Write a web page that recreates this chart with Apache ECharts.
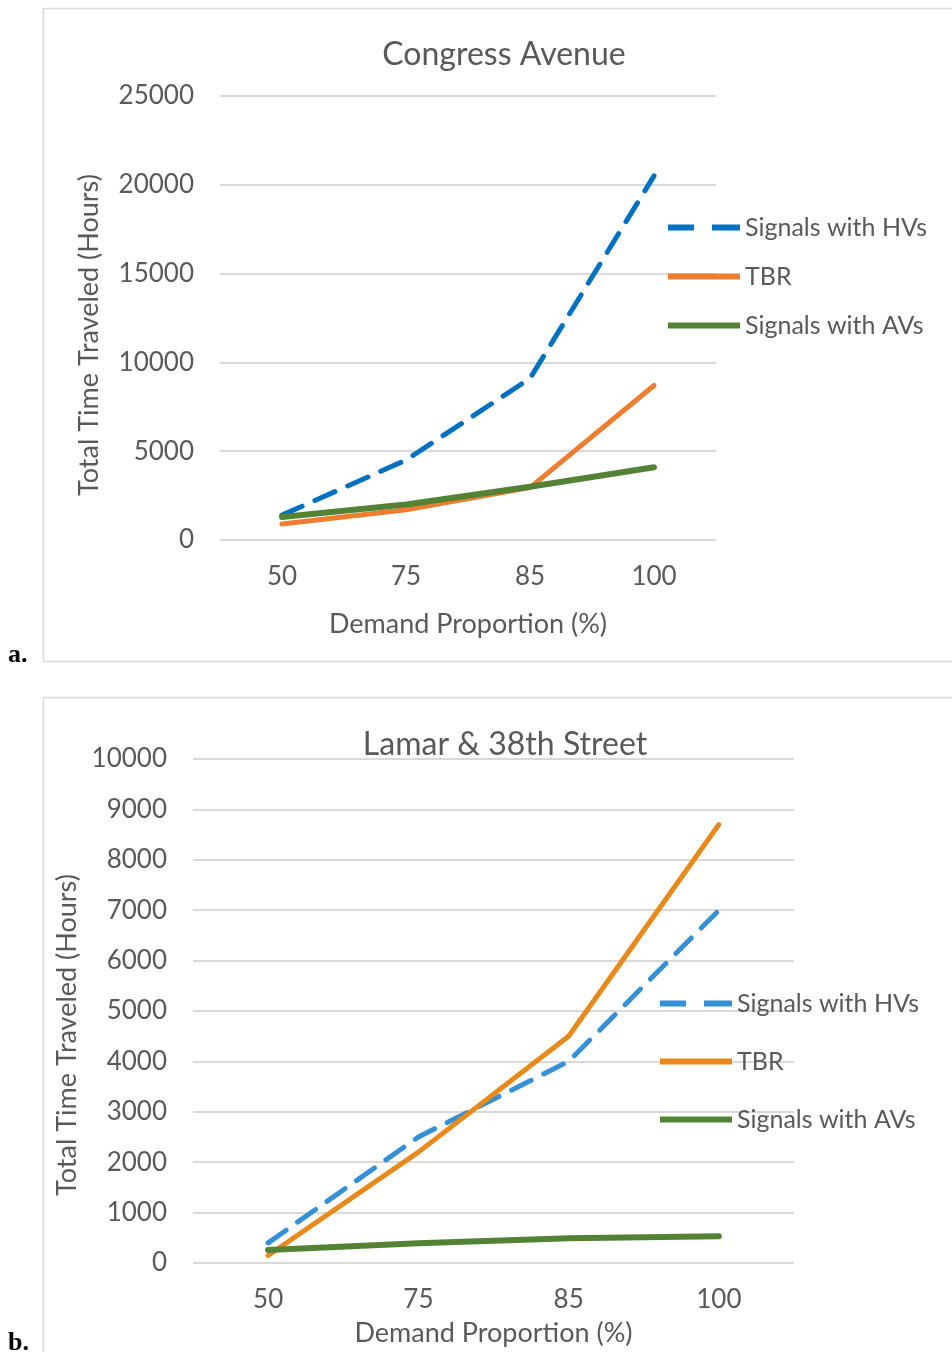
<!DOCTYPE html>
<html>
<head>
<meta charset="utf-8">
<script src="https://cdn.jsdelivr.net/npm/echarts@6/dist/echarts.min.js"></script>
<style>
  html, body { margin: 0; padding: 0; background: #fff; }
  #chartA { position: absolute; left: 0; top: 0; width: 952px; height: 680px; }
  #chartB { position: absolute; left: 0; top: 680px; width: 952px; height: 672px; }
</style>
</head>
<body>
<div id="chartA"></div>
<div id="chartB"></div>
<script>
// demand proportion categories (same for both panels)
const demand = ['50', '75', '85', '100']

// a. Congress Avenue
const congressHVs = [1400, 4500, 9100, 20500]
const congressTBR = [900, 1700, 2950, 8700]
const congressAVs = [1300, 2000, 3000, 4100]

// b. Lamar & 38th Street
const lamarHVs = [400, 2500, 4000, 7000]
const lamarTBR = [150, 2200, 4500, 8700]
const lamarAVs = [260, 390, 490, 530]

const FONT = 'Lato'
const TXT = '#595959'
const GRID = '#d9d9d9'

// legend glyphs: dashed bar and solid bar
const DASH_ICON = 'path://M0,0h26v6h-26z M44,0h28v6h-28z'
const SOLID_ICON = 'path://M0,0h72v6h-72z'

function makeOption(cfg) {
  return {
    animation: false,
    textStyle: { fontFamily: FONT },
    graphic: [
      { type: 'rect', shape: { x: 43.5, y: cfg.boxTop, width: 930, height: cfg.boxH },
        style: { fill: 'none', stroke: GRID, lineWidth: 1.5 }, silent: true },
      { type: 'text', x: cfg.titleX, y: cfg.titleY,
        style: { text: cfg.title, fill: TXT, font: '32px ' + FONT, textAlign: 'center', textVerticalAlign: 'middle' } },
      { type: 'text', x: 8, y: cfg.tagY,
        style: { text: cfg.tag, fill: '#000', font: 'bold 26px "Liberation Serif"', textAlign: 'left', textVerticalAlign: 'middle' } }
    ],
    legend: {
      orient: 'vertical',
      left: cfg.legendLeft,
      top: cfg.legendTop,
      padding: 0,
      itemWidth: 72,
      itemHeight: 6,
      itemGap: cfg.legendGap,
      symbolKeepAspect: false,
      textStyle: { color: TXT, fontSize: 25, fontFamily: FONT },
      data: [
        { name: 'Signals with HVs', icon: DASH_ICON },
        { name: 'TBR', icon: SOLID_ICON },
        { name: 'Signals with AVs', icon: SOLID_ICON }
      ]
    },
    grid: cfg.grid,
    xAxis: {
      type: 'category',
      data: demand,
      boundaryGap: true,
      axisLine: { show: false },
      axisTick: { show: false },
      axisLabel: { color: TXT, fontSize: 26, margin: 24 },
      name: 'Demand Proportion (%)',
      nameLocation: 'middle',
      nameGap: cfg.xNameGap,
      nameTextStyle: { color: TXT, fontSize: 27 }
    },
    yAxis: {
      type: 'value',
      min: 0,
      max: cfg.yMax,
      interval: cfg.yStep,
      axisLine: { show: false },
      axisTick: { show: false },
      axisLabel: { color: TXT, fontSize: 26, margin: 26, formatter: v => String(v) },
      splitLine: { lineStyle: { color: GRID, width: 2 } },
      name: 'Total Time Traveled (Hours)',
      nameLocation: 'middle',
      nameGap: cfg.yNameGap,
      nameTextStyle: { color: TXT, fontSize: 27, padding: [0, cfg.yNameShift, 0, 0] }
    },
    series: [
      { name: 'Signals with HVs', type: 'line', data: cfg.hv, symbol: 'none',
        lineStyle: { color: cfg.colors[0], width: 5, type: [22, 14], cap: 'round' },
        itemStyle: { color: cfg.colors[0] } },
      { name: 'TBR', type: 'line', data: cfg.tbr, symbol: 'none',
        lineStyle: { color: cfg.colors[1], width: 5, cap: 'round' },
        itemStyle: { color: cfg.colors[1] } },
      { name: 'Signals with AVs', type: 'line', data: cfg.av, symbol: 'none',
        lineStyle: { color: cfg.colors[2], width: 6, cap: 'round' },
        itemStyle: { color: cfg.colors[2] } }
    ]
  }
}

const chartA = echarts.init(document.getElementById('chartA'))
chartA.setOption(makeOption({
  boxTop: 8.5, boxH: 653, title: 'Congress Avenue', titleX: 504, titleY: 55,
  tag: 'a.', tagY: 655,
  legendLeft: 668, legendTop: 215, legendGap: 24,
  grid: { left: 220, right: 236, top: 96, bottom: 140 },
  xNameGap: 71,
  yMax: 25000, yStep: 5000, yNameGap: 117, yNameShift: 34,
  hv: congressHVs, tbr: congressTBR, av: congressAVs,
  colors: ['#0070c0', '#ed7d31', '#548235']
}))

const chartB = echarts.init(document.getElementById('chartB'))
chartB.setOption(makeOption({
  boxTop: 17.5, boxH: 700, title: 'Lamar & 38th Street', titleX: 505, titleY: 65,
  tag: 'b.', tagY: 663,
  legendLeft: 660, legendTop: 311, legendGap: 33,
  grid: { left: 193, right: 158, top: 79, bottom: 79 },
  xNameGap: 57,
  yMax: 10000, yStep: 1000, yNameGap: 112, yNameShift: 48,
  hv: lamarHVs, tbr: lamarTBR, av: lamarAVs,
  colors: ['#3590d5', '#e8891c', '#548235']
}))
</script>
</body>
</html>
